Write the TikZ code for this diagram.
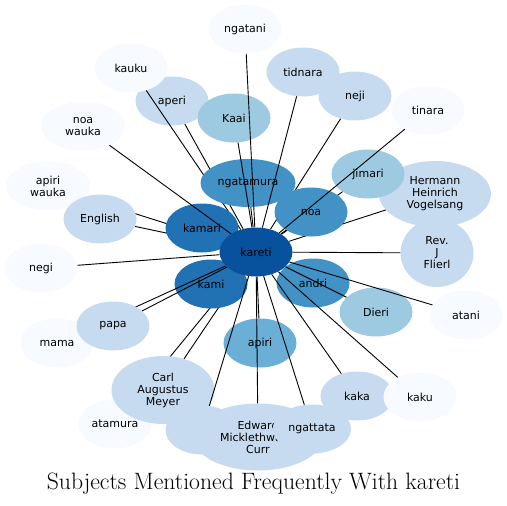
\documentclass[tikz,border=0pt]{standalone}
\usepackage{fontspec}
\usepackage{tikz}
\usetikzlibrary{shapes.geometric}
\newfontfamily\labelfont{DejaVu Sans}
\definecolor{blueA}{HTML}{F7FBFF}
\definecolor{blueB}{HTML}{C6DBEF}
\definecolor{blueC}{HTML}{9ECAE1}
\definecolor{blueD}{HTML}{6BAED6}
\definecolor{blueE}{HTML}{4292C6}
\definecolor{blueF}{HTML}{2171B5}
\definecolor{blueG}{HTML}{08519C}
\pgfdeclarelayer{front}
\pgfsetlayers{main,front}

\begin{document}
\begin{tikzpicture}[
    x=1pt, y=-1pt,
    subj/.style={ellipse, fill=blueA, inner sep=0pt, minimum width=73pt, minimum height=49pt, align=center, font=\labelfont\fontsize{11}{12}\selectfont},
    link/.style={line width=0.9pt, black}
]
\useasboundingbox (0,0) rectangle (507,506);
\begin{pgfonlayer}{front}
\node[subj, fill=blueG] (kareti) at (256,252) {kareti};
\end{pgfonlayer}
\node[subj, fill=blueB] (aperi) at (172,101) {aperi};
\node[subj] (kauku) at (131,68) {kauku};
\draw[link] (kareti) -- (kauku);
\draw[link] (kareti) -- (aperi);
\node[subj, fill=blueE, minimum width=95pt, minimum height=48pt] (ngatamura) at (248,183) {ngatamura};
\draw[link] (kareti) -- (ngatamura);
\node[subj, fill=blueC] (kaai) at (234,118) {Kaai};
\draw[link] (kareti) -- (kaai);
\node[subj] (ngatani) at (245,29) {ngatani};
\draw[link] (kareti) -- (ngatani);
\node[subj, fill=blueB] (tidnara) at (303,72) {tidnara};
\node[subj, fill=blueB] (neji) at (355,96) {neji};
\node[subj, fill=blueB, minimum width=112pt, minimum height=66pt] (vogelsang) at (435,194) {Hermann\\Heinrich\\Vogelsang};
\node[subj, fill=blueC] (jimari) at (368,174) {jimari};
\node[subj, fill=blueB, minimum height=68pt] (flierl) at (437,253) {Rev.\\J\\Flierl};
\draw[link] (kareti) -- (neji);
\draw[link] (kareti) -- (vogelsang);
\draw[link] (kareti) -- (jimari);
\draw[link] (kareti) -- (tidnara);
\node[subj, fill=blueE] (noa) at (311,212) {noa};
\draw[link] (kareti) -- (noa);
\node[subj] (tinara) at (428,110) {tinara};
\draw[link] (kareti) -- (tinara);
\draw[link] (kareti) -- (flierl);
\node[subj, minimum width=84pt] (apiriwauka) at (48,186) {apiri\\wauka};
\draw[link] (kareti) -- (apiriwauka);
\node[subj, fill=blueB] (english) at (100,219) {English};
\draw[link] (kareti) -- (english);
\node[subj, fill=blueF] (kamari) at (202,228) {kamari};
\node[subj, minimum width=84pt] (noawauka) at (83,126) {noa\\wauka};
\draw[link] (kareti) -- (noawauka);
\node[subj] (atamura) at (115,424) {atamura};
\draw[link] (kareti) -- (atamura);
\node[subj, fill=blueB, minimum width=103pt, minimum height=68pt] (carl) at (163,390) {Carl\\Augustus\\Meyer};
\draw[link] (kareti) -- (carl);
\node[subj, fill=blueF] (kami) at (211,284) {kami};
\node[subj] (mama) at (57,343) {mama};
\draw[link] (kareti) -- (mama);
\node[subj, fill=blueB] (papa) at (113,326) {papa};
\draw[link] (kareti) -- (papa);
\node[subj] (negi) at (41,268) {negi};
\draw[link] (kareti) -- (negi);
\node[subj, fill=blueE] (andri) at (313,283) {andri};
\node[subj, fill=blueC] (dieri) at (376,312) {Dieri};
\node[subj] (atani) at (466,315) {atani};
\draw[link] (kareti) -- (dieri);
\draw[link] (kareti) -- (atani);
\node[subj, fill=blueB] (kaka) at (357,396) {kaka};
\node[subj] (kaku) at (420,397) {kaku};
\draw[link] (kareti) -- (kaka);
\draw[link] (kareti) -- (kaku);
\node[subj, fill=blueD] (apiri) at (260,343) {apiri};
\draw[link] (kareti) -- (apiri);
\node[subj, fill=blueB] (hidden) at (202,430) {A};
\draw[link] (kareti) -- (hidden);
\node[subj, fill=blueB, minimum width=130pt, minimum height=67pt] (curr) at (258,437) {Edward\\Micklethwaite\\Curr};
\draw[link] (kareti) -- (curr);
\node[subj, fill=blueB, minimum width=78pt] (ngattata) at (312,429) {ngattata};
\draw[link] (kareti) -- (ngattata);
\node[font=\fontsize{23.7}{26}\selectfont] (title) at (253.5,484) {Subjects Mentioned Frequently With kareti};
\end{tikzpicture}
\end{document}
